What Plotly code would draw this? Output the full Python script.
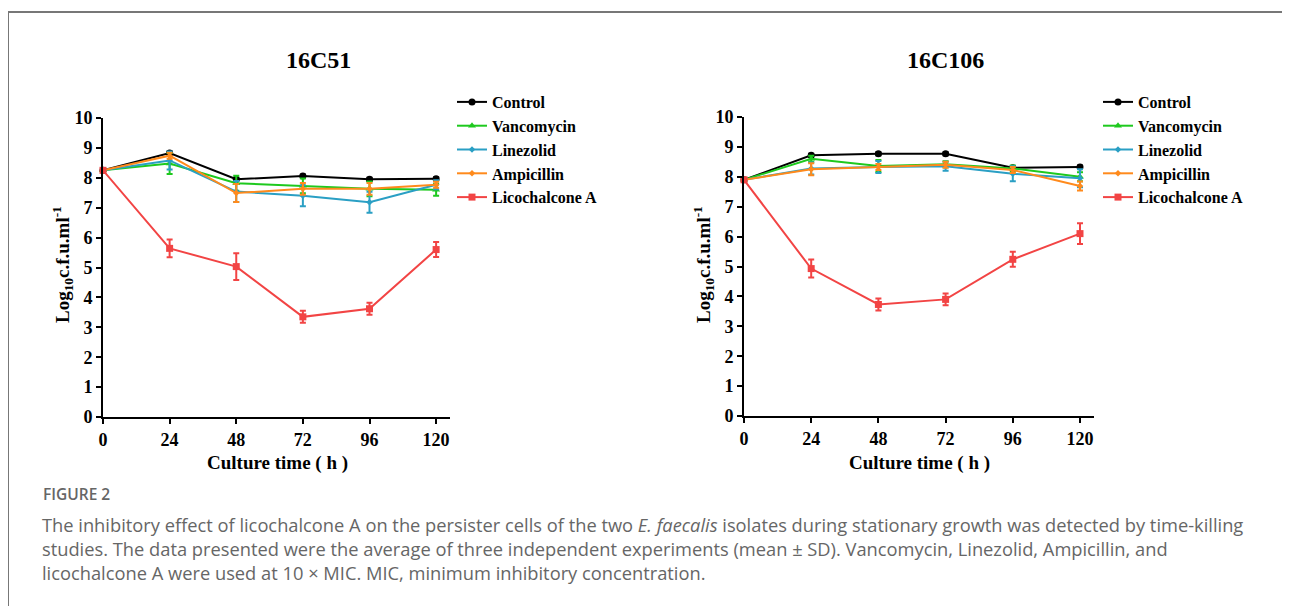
import plotly.graph_objects as go

W, H = 1290, 606
hours = [0, 24, 48, 72, 96, 120]
tick_labels = ["0", "24", "48", "72", "96", "120"]
series_names = ["Control", "Vancomycin", "Linezolid", "Ampicillin", "Licochalcone A"]

# 16C51
a_control = [8.25, 8.83, 7.95, 8.06, 7.95, 7.97]
a_vanco = [8.25, 8.48, 7.82, 7.73, 7.63, 7.60]
a_linez = [8.25, 8.58, 7.54, 7.40, 7.18, 7.77]
a_ampi = [8.25, 8.74, 7.49, 7.63, 7.63, 7.77]
a_lico = [8.25, 5.64, 5.03, 3.35, 3.62, 5.60]
a_control_sd = [0.05, 0.05, 0.05, 0.05, 0.05, 0.05]
a_vanco_sd = [0.05, 0.35, 0.25, 0.25, 0.25, 0.2]
a_linez_sd = [0.05, 0.3, 0.35, 0.35, 0.35, 0.15]
a_ampi_sd = [0.05, 0.1, 0.3, 0.2, 0.2, 0.1]
a_lico_sd = [0.05, 0.3, 0.45, 0.2, 0.2, 0.25]

# 16C106
b_control = [7.90, 8.72, 8.77, 8.77, 8.30, 8.33]
b_vanco = [7.90, 8.60, 8.36, 8.42, 8.28, 8.00]
b_linez = [7.90, 8.28, 8.33, 8.35, 8.10, 7.95]
b_ampi = [7.90, 8.25, 8.33, 8.40, 8.23, 7.69]
b_lico = [7.90, 4.93, 3.73, 3.90, 5.24, 6.10]
b_control_sd = [0.05, 0.05, 0.05, 0.05, 0.05, 0.05]
b_vanco_sd = [0.05, 0.1, 0.2, 0.1, 0.1, 0.15]
b_linez_sd = [0.05, 0.2, 0.2, 0.15, 0.25, 0.3]
b_ampi_sd = [0.05, 0.2, 0.1, 0.1, 0.1, 0.15]
b_lico_sd = [0.05, 0.3, 0.2, 0.2, 0.25, 0.35]

colors = ["#000000", "#1ec91e", "#2a9fc4", "#ff8a1c", "#f24444"]
symbols = ["circle", "triangle-up", "diamond", "diamond", "square"]
sizes = [7, 7, 5, 5, 7]

FONT = "Liberation Serif"
OFF = 8  # page body margin


def px2x(px):
    return (px - OFF) / W


def px2y(py):
    return 1 - (py - OFF) / H


fig = go.Figure()

panels = [
    ([a_control, a_vanco, a_linez, a_ampi, a_lico],
     [a_control_sd, a_vanco_sd, a_linez_sd, a_ampi_sd, a_lico_sd], "x", "y", "legend"),
    ([b_control, b_vanco, b_linez, b_ampi, b_lico],
     [b_control_sd, b_vanco_sd, b_linez_sd, b_ampi_sd, b_lico_sd], "x2", "y2", "legend2"),
]

for vals, sds, xa, ya, lg in panels:
    for i, name in enumerate(series_names):
        fig.add_trace(go.Scatter(
            x=hours, y=vals[i], name=name, mode="lines+markers",
            xaxis=xa, yaxis=ya, legend=lg,
            line=dict(color=colors[i], width=2),
            marker=dict(color=colors[i], symbol=symbols[i], size=sizes[i]),
            error_y=dict(type="data", array=sds[i], color=colors[i], thickness=2, width=3),
            cliponaxis=False,
        ))

axis_common = dict(
    showgrid=False, zeroline=False, showline=True, linecolor="black", linewidth=2,
    ticks="outside", ticklen=5, tickwidth=2, tickcolor="black", automargin=False,
    tickfont=dict(family=FONT, size=18, color="black", weight="bold"),
)

legend_common = dict(
    xanchor="left", yanchor="top",
    font=dict(family=FONT, size=16, color="black", weight="bold"),
    tracegroupgap=0, itemwidth=30, bgcolor="rgba(0,0,0,0)",
)

fig.update_layout(
    template="none",
    width=W, height=H,
    margin=dict(l=0, r=0, t=0, b=0, autoexpand=False),
    paper_bgcolor="white", plot_bgcolor="white",
    showlegend=True,
    xaxis=dict(domain=[px2x(103), px2x(450)], range=[0, 125], anchor="y",
               tickvals=hours, ticktext=tick_labels, **axis_common),
    yaxis=dict(domain=[px2y(417), px2y(118)], range=[0, 10], anchor="x",
               tickvals=list(range(11)), **axis_common),
    xaxis2=dict(domain=[px2x(744), px2x(1094)], range=[0, 125], anchor="y2",
                tickvals=hours, ticktext=tick_labels, **axis_common),
    yaxis2=dict(domain=[px2y(416), px2y(117)], range=[0, 10], anchor="x2",
                tickvals=list(range(11)), **axis_common),
    legend=dict(x=px2x(452), y=px2y(85), **legend_common),
    legend2=dict(x=px2x(1098), y=px2y(85), **legend_common),
)

ann = []


def add_text(text, px, py, size, xanchor="center", angle=0, family=FONT, color="black", weight=None):
    f = dict(family=family, size=size, color=color)
    if weight is not None:
        f["weight"] = weight
    ann.append(dict(text=text, x=px2x(px), y=px2y(py), xref="paper", yref="paper",
                    xanchor=xanchor, yanchor="middle", showarrow=False, textangle=angle,
                    font=f))


# Panel titles
add_text("<b>16C51</b>", 318, 60, 24)
add_text("<b>16C106</b>", 945, 60, 24)
# Axis titles
for cx in (277, 919):
    add_text("<b>Culture time ( h )</b>", cx, 463, 19)
for cx in (62, 703):
    add_text("<b>Log<sub>10</sub>c.f.u.ml<sup>-1</sup></b>", cx, 265, 19, angle=-90)

# Caption
CAP = "Open Sans"
add_text("FIGURE 2", 41, 494, 15.5, xanchor="left", family=CAP, color="#666666", weight=600)
cap_lines = [
    "The inhibitory effect of licochalcone A on the persister cells of the two <i>E. faecalis</i> isolates during stationary growth was detected by time-killing",
    "studies. The data presented were the average of three independent experiments (mean ± SD). Vancomycin, Linezolid, Ampicillin, and",
    "licochalcone A were used at 10 × MIC. MIC, minimum inhibitory concentration.",
]
for k, line in enumerate(cap_lines):
    add_text(line, 40, 524 + 24 * k, 18.3, xanchor="left", family=CAP, color="#666666")

fig.update_layout(annotations=ann)

# Frame lines (top and left)
fig.add_shape(type="line", xref="paper", yref="paper", x0=px2x(8), x1=1, y0=px2y(12), y1=px2y(12),
              line=dict(color="#777777", width=2))
fig.add_shape(type="line", xref="paper", yref="paper", x0=px2x(8), x1=px2x(8), y0=px2y(12), y1=0,
              line=dict(color="#777777", width=2))

fig.write_html("out.html")
